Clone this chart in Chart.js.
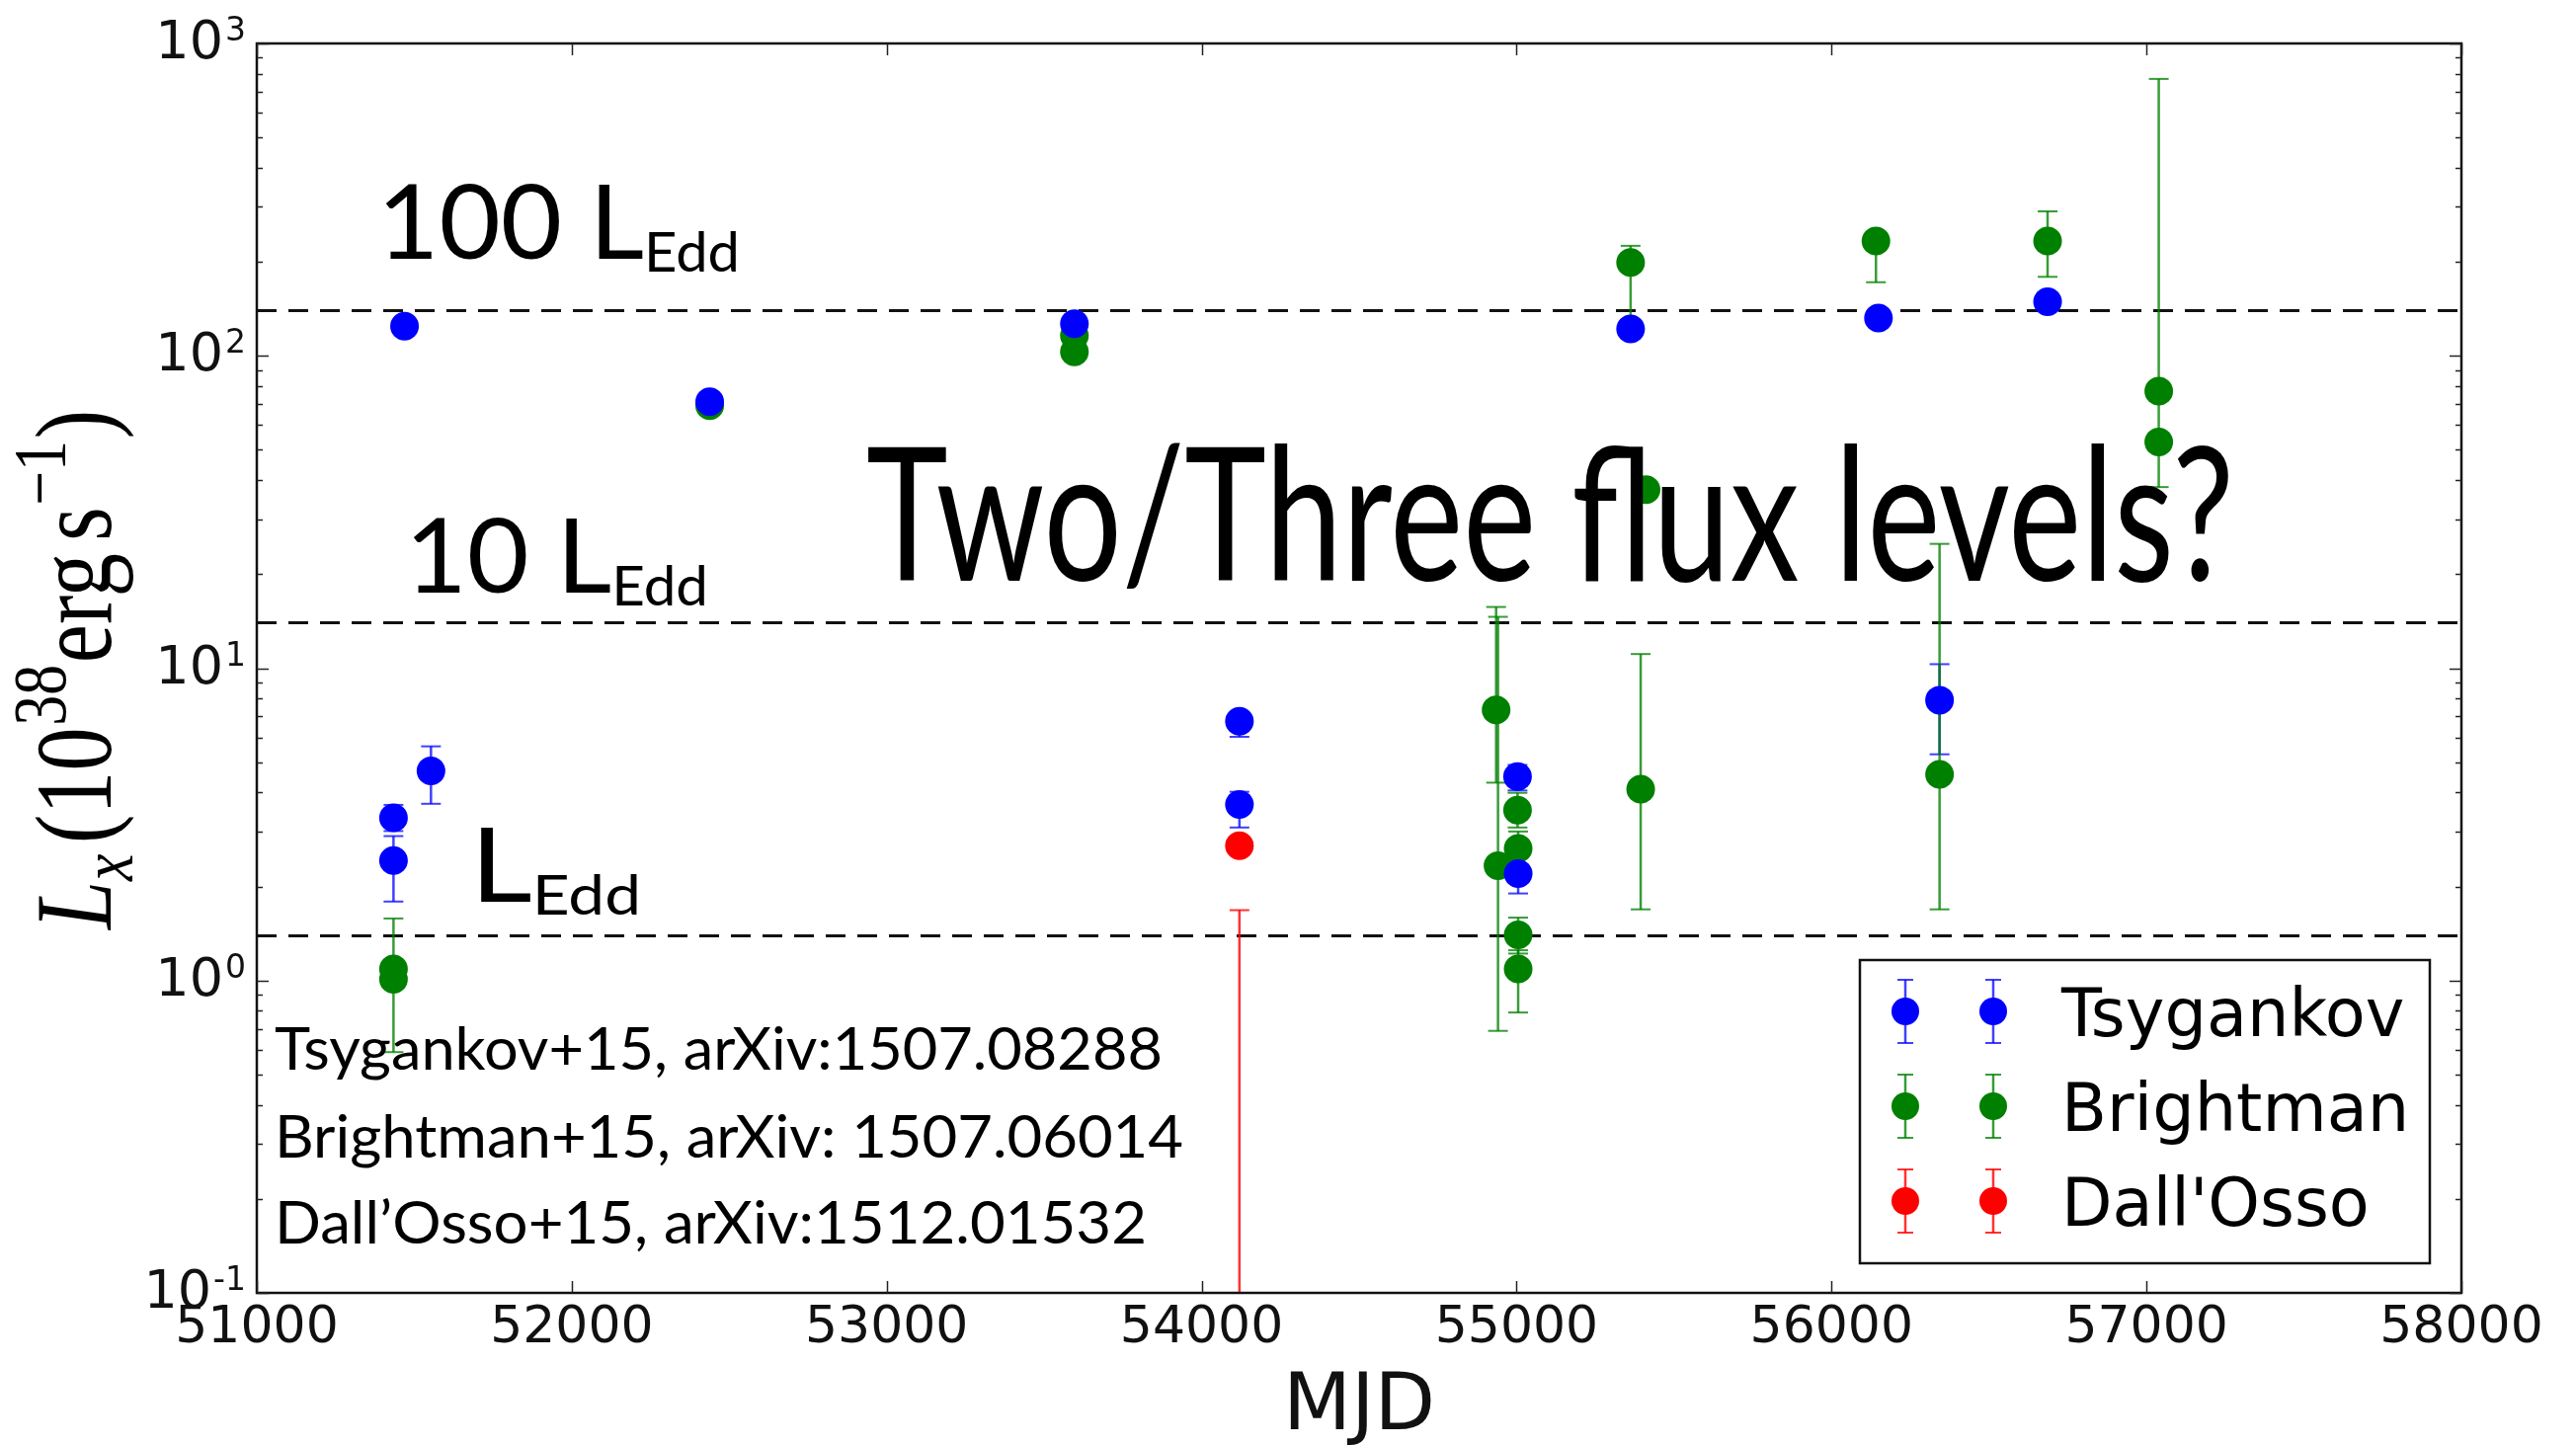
<!DOCTYPE html>
<html><head><meta charset="utf-8">
<script src="https://cdn.jsdelivr.net/npm/chart.js@4.4.1/dist/chart.umd.min.js"></script>
<style>html,body{margin:0;padding:0;background:#fff;}#wrap{width:2608px;height:1463px;position:relative;}</style>
</head><body><div id="wrap"><canvas id="c"></canvas></div>
<script>
// ---------------- data ----------------
const tsyMJD = [51469, 51434, 51434, 51553, 52438, 53596, 54120, 54120, 55003, 55005, 55362, 56149, 56343, 56686];
const tsyL   = [124.5, 3.32, 2.42, 4.69, 71.3, 126.8, 6.76, 3.66, 4.5, 2.2, 122, 132, 7.9, 149];
const tsyLo  = [null, 3.01, 1.79, 3.68, null, null, 6.03, 3.09, 4.06, 1.90, null, null, 5.3, null];
const tsyHi  = [null, 3.65, 2.90, 5.62, null, null, 7.2, 4.02, 4.9, 2.5, null, null, 10.3, null];

const briMJD = [51434, 51434, 52438, 53596, 53596, 54935, 54941, 55003, 55005, 55005, 55005, 55394, 55411, 55362, 56141, 56343, 56686, 57039, 57039];
const briL   = [1.09, 1.01, 69.2, 116, 103, 7.35, 2.33, 3.51, 2.65, 1.40, 1.09, 4.10, 37.3, 199, 233, 4.57, 233, 77.1, 53.0];
const briLo  = [0.59, null, null, null, null, 4.3, 0.69, 3.09, 2.35, 1.22, 0.79, 1.69, null, 130, 172, 1.69, 179, null, 38];
const briHi  = [1.58, null, null, null, null, 15.7, 14.6, 3.99, 3.0, 1.59, 1.25, 11.1, null, 225, 240, 25, 290, null, 770];

const dalMJD = [54120, 54120];
const dalL   = [2.7, 0.05];
const dalLo  = [null, 0.01];
const dalHi  = [null, 1.68];

const eddLevels = [1.4, 14, 140];
const xTicks = [51000, 52000, 53000, 54000, 55000, 56000, 57000, 58000];
const yTickExps = [-1, 0, 1, 2, 3];
const seriesNames = ['Tsygankov', 'Brightman', "Dall'Osso"];
const refLines = ['Tsygankov+15, arXiv:1507.08288', 'Brightman+15, arXiv: 1507.06014', 'Dall\u2019Osso+15, arXiv:1512.01532'];
const bigNote = 'Two/Three flux levels?';
const eddLabels = [['100 L', 'Edd'], ['10 L', 'Edd'], ['L', 'Edd']];

// ---------------- helpers ----------------
const COLORS = {blue:'#0000ff', green:'#008000', red:'#ff0000'};
const ERRC = {blue:'rgba(0,0,255,0.75)', green:'rgba(0,128,0,0.78)', red:'rgba(255,0,0,0.8)'};
const pts = (xs, ys) => xs.map((x, i) => ({x: x, y: ys[i]}));

function fitText(ctx, text, x, y, w) {
  const m = ctx.measureText(text).width;
  ctx.save(); ctx.translate(x, y); ctx.scale(w / m, 1); ctx.fillText(text, 0, 0); ctx.restore();
}

const decor = {
  id: 'decor',
  beforeDatasetsDraw(chart) {
    const {ctx, chartArea: a, scales: {x, y}} = chart;
    ctx.save();
    ctx.beginPath(); ctx.rect(a.left, a.top, a.right - a.left, a.bottom - a.top); ctx.clip();
    ctx.strokeStyle = '#111'; ctx.lineWidth = 3; ctx.setLineDash([20, 12]);
    eddLevels.forEach(v => { const py = Math.round(y.getPixelForValue(v)) + 0.5;
      ctx.beginPath(); ctx.moveTo(a.left, py); ctx.lineTo(a.right, py); ctx.stroke(); });
    ctx.setLineDash([]);
    chart.data.datasets.forEach(ds => {
      ctx.strokeStyle = ds.errColor; ctx.lineWidth = 2.5;
      ds.errLo.forEach((lo, i) => {
        const hi = ds.errHi[i];
        if (lo == null || hi == null) return;
        const px = x.getPixelForValue(ds.data[i].x);
        const y1 = y.getPixelForValue(lo), y2 = y.getPixelForValue(hi);
        ctx.beginPath(); ctx.moveTo(px, y1); ctx.lineTo(px, y2); ctx.stroke();
        ctx.lineWidth = 2;
        [y1, y2].forEach(yy => { ctx.beginPath(); ctx.moveTo(px - 10, yy); ctx.lineTo(px + 10, yy); ctx.stroke(); });
        ctx.lineWidth = 2.5;
      });
    });
    ctx.restore();
  },
  afterDatasetsDraw(chart) {
    const {ctx, chartArea: a, scales: {x, y}} = chart;
    ctx.save();
    ctx.strokeStyle = '#111'; ctx.lineWidth = 2.5;
    ctx.strokeRect(a.left, a.top, a.right - a.left, a.bottom - a.top);
    ctx.lineWidth = 1.5; ctx.strokeStyle = '#222';
    xTicks.forEach(v => { const px = Math.round(x.getPixelForValue(v)) + 0.5;
      ctx.beginPath(); ctx.moveTo(px, a.bottom); ctx.lineTo(px, a.bottom - 12); ctx.stroke();
      ctx.beginPath(); ctx.moveTo(px, a.top); ctx.lineTo(px, a.top + 12); ctx.stroke(); });
    yTickExps.forEach(e => {
      for (let k = 1; k <= 9; k++) {
        const v = k * Math.pow(10, e); if (v > 1000) break;
        const py = Math.round(y.getPixelForValue(v)) + 0.5; const L = k === 1 ? 12 : 6;
        ctx.beginPath(); ctx.moveTo(a.left, py); ctx.lineTo(a.left + L, py); ctx.stroke();
        ctx.beginPath(); ctx.moveTo(a.right, py); ctx.lineTo(a.right - L, py); ctx.stroke();
      }
    });
    ctx.fillStyle = '#111';
    ctx.font = '52px "DejaVu Sans"'; ctx.textAlign = 'center'; ctx.textBaseline = 'middle';
    xTicks.forEach(v => ctx.fillText(String(v), x.getPixelForValue(v), 1345));
    yTickExps.forEach(e => {
      const py = y.getPixelForValue(Math.pow(10, e));
      const sup = e < 0 ? '-' + (-e) : String(e);
      ctx.font = '33px "DejaVu Sans"'; const sw = ctx.measureText(sup).width;
      ctx.textAlign = 'left'; ctx.textBaseline = 'alphabetic';
      ctx.fillText(sup, 249 - sw, py - 3);
      ctx.font = '54px "DejaVu Sans"'; ctx.textAlign = 'right'; ctx.textBaseline = 'middle';
      ctx.fillText('10', 249 - sw - 2, py + 1);
    });
    ctx.font = '80px "DejaVu Sans"'; ctx.textAlign = 'center'; ctx.textBaseline = 'alphabetic';
    ctx.fillText('MJD', (a.left + a.right) / 2, 1447);
    drawYLabel(ctx);
    ctx.fillStyle = '#000'; ctx.textAlign = 'left';
    const eddPos = [[382, 262, 367], [410, 600, 307], [476, 913, 173]];
    eddLabels.forEach((lab, i) => {
      const [lx, ly, w] = eddPos[i];
      ctx.font = '104px Lato'; const w1 = ctx.measureText(lab[0]).width;
      ctx.font = '56px Lato'; const w2 = ctx.measureText(lab[1]).width;
      const s = w / (w1 + w2);
      ctx.save(); ctx.translate(lx, 0); ctx.scale(s, 1);
      ctx.font = '104px Lato'; ctx.fillText(lab[0], 0, ly);
      ctx.font = '56px Lato'; ctx.fillText(lab[1], w1, ly + 13);
      ctx.restore();
    });
    ctx.font = '60px Lato';
    const refPos = [[1083, 899], [1172, 920], [1259, 883]];
    refLines.forEach((t, i) => fitText(ctx, t, 278, refPos[i][0], refPos[i][1]));
    ctx.font = '188px Lato';
    fitText(ctx, bigNote, 877, 588, 1385);
    drawLegend(ctx);
    ctx.restore();
  }
};

function drawYLabel(ctx) {
  const F = 110;
  const pieces = [
    {t:'L', st:'italic', s:1, dy:0, gap:0},
    {t:'x', st:'italic', s:0.7, dy:0.2, gap:0},
    {t:'(', st:'', s:1, dy:0, gap:0.12},
    {t:'10', st:'', s:1, dy:0, gap:0},
    {t:'38', st:'', s:0.7, dy:-0.42, gap:0.02},
    {t:'erg', st:'', s:1, dy:0, gap:0.02},
    {t:'s', st:'', s:1, dy:0, gap:0.14},
    {t:'\u22121', st:'', s:0.7, dy:-0.42, gap:0.02},
    {t:')', st:'', s:1, dy:0, gap:0.02}
  ];
  const fontOf = p => `${p.st} ${Math.round(F * p.s)}px "Liberation Serif"`;
  let tot = 0;
  pieces.forEach(p => { ctx.font = fontOf(p); p.w = ctx.measureText(p.t).width; tot += p.w + p.gap * F; });
  const target = 526; const k = target / tot;
  ctx.save(); ctx.translate(112, 678); ctx.rotate(-Math.PI / 2); ctx.scale(k, 1);
  ctx.textAlign = 'left'; ctx.textBaseline = 'alphabetic'; ctx.fillStyle = '#000';
  let cx = -tot / 2;
  pieces.forEach(p => { cx += p.gap * F; ctx.font = fontOf(p); ctx.fillText(p.t, cx, p.dy * F); cx += p.w; });
  ctx.restore();
}

function drawLegend(ctx) {
  const bx = 1883, by = 972, bw = 577, bh = 307;
  ctx.fillStyle = '#fff'; ctx.fillRect(bx, by, bw, bh);
  ctx.strokeStyle = '#111'; ctx.lineWidth = 2.5; ctx.strokeRect(bx, by, bw, bh);
  const rows = [1024, 1120, 1216];
  const cols = [[COLORS.blue, ERRC.blue], [COLORS.green, ERRC.green], [COLORS.red, ERRC.red]];
  rows.forEach((ry, i) => {
    [1929, 2018].forEach(mx => {
      ctx.strokeStyle = cols[i][1]; ctx.lineWidth = 2.5;
      ctx.beginPath(); ctx.moveTo(mx, ry - 32); ctx.lineTo(mx, ry + 32); ctx.stroke();
      ctx.lineWidth = 2;
      [ry - 32, ry + 32].forEach(yy => { ctx.beginPath(); ctx.moveTo(mx - 8, yy); ctx.lineTo(mx + 8, yy); ctx.stroke(); });
      ctx.fillStyle = cols[i][0]; ctx.beginPath(); ctx.arc(mx, ry, 14, 0, Math.PI * 2); ctx.fill();
    });
    ctx.fillStyle = '#000'; ctx.font = '67px "DejaVu Sans"'; ctx.textAlign = 'left'; ctx.textBaseline = 'alphabetic';
    ctx.fillText(seriesNames[i], 2087, ry + 25);
  });
}

const mkSet = (label, xs, ys, lo, hi, c) => ({
  label: label, data: pts(xs, ys), errLo: lo, errHi: hi, errColor: ERRC[c],
  backgroundColor: COLORS[c], borderWidth: 0, pointRadius: 14.5, pointHoverRadius: 14.5, pointStyle: 'circle', clip: 0, showLine: false
});

new Chart(document.getElementById('c'), {
  type: 'scatter',
  data: { datasets: [
    mkSet(seriesNames[0], tsyMJD, tsyL, tsyLo, tsyHi, 'blue'),
    mkSet(seriesNames[2], dalMJD, dalL, dalLo, dalHi, 'red'),
    mkSet(seriesNames[1], briMJD, briL, briLo, briHi, 'green')
  ]},
  options: {
    responsive: true, maintainAspectRatio: false, animation: false, devicePixelRatio: 1, events: [],
    layout: { padding: { left: 260, top: 44, right: 116, bottom: 154 } },
    scales: {
      x: { type: 'linear', min: 51000, max: 58000, display: false },
      y: { type: 'logarithmic', min: 0.1, max: 1000, display: false }
    },
    plugins: { legend: { display: false }, tooltip: { enabled: false } }
  },
  plugins: [decor]
});
</script></body></html>
